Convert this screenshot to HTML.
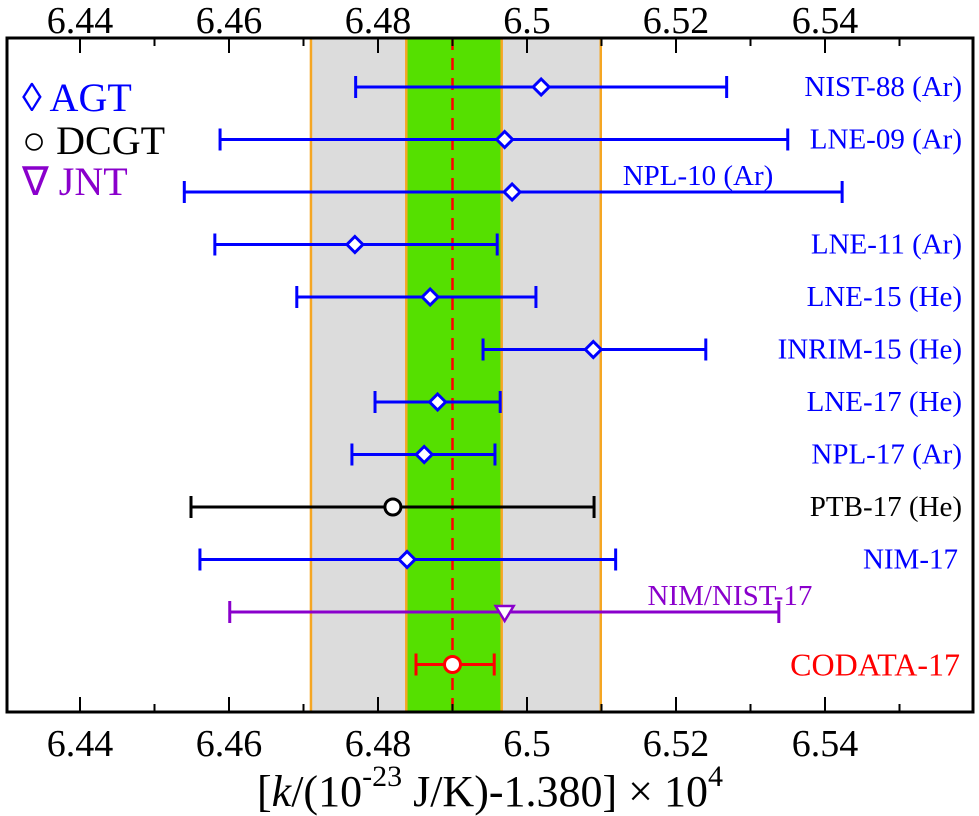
<!DOCTYPE html>
<html><head><meta charset="utf-8"><style>
body{margin:0;background:#fff;}
svg{display:block;font-family:"Liberation Serif",serif;}
</style></head><body>
<svg id="chart" width="979" height="816" viewBox="0 0 979 816" xmlns="http://www.w3.org/2000/svg">
<g id="bands"></g>
<g id="axes"></g>
<g id="marks"></g>
<g id="legend">
  <text x="22" y="111" font-size="40" fill="#0000ff">◊ AGT</text>
  <text x="22" y="154" font-size="40" fill="#000">○ DCGT</text>
  <text x="22" y="195" font-size="40" fill="#8a00cc">∇ JNT</text>
</g>
<text x="490" y="806" font-size="44" text-anchor="middle">[<tspan font-style="italic">k</tspan>/(10<tspan dy="-20" font-size="30">-23</tspan><tspan dy="20"> J/K)-1.380] × 10</tspan><tspan dy="-20" font-size="30">4</tspan></text>
</svg>
<script>
const labels=["NIST-88 (Ar)","LNE-09 (Ar)","NPL-10 (Ar)","LNE-11 (Ar)","LNE-15 (He)","INRIM-15 (He)","LNE-17 (He)","NPL-17 (Ar)","PTB-17 (He)","NIM-17","NIM/NIST-17","CODATA-17"];
const centers=[6.5019,6.497,6.498,6.4769,6.487,6.5089,6.488,6.4862,6.482,6.4839,6.497,6.4900];
const lows=[6.477,6.4588,6.454,6.4581,6.4691,6.4941,6.4796,6.4765,6.4549,6.4561,6.4601,6.4851];
const highs=[6.5268,6.535,6.5423,6.496,6.5012,6.524,6.4964,6.4957,6.509,6.5119,6.5338,6.4956];
const methods=["AGT","AGT","AGT","AGT","AGT","AGT","AGT","AGT","DCGT","AGT","JNT","CODATA"];
const tickValues=[6.44,6.46,6.48,6.50,6.52,6.54];
const tickLabels=["6.44","6.46","6.48","6.5","6.52","6.54"];
const minorTicks=[6.43,6.45,6.47,6.49,6.51,6.53,6.55];
const grayBand=[6.471,6.5099];
const greenBand=[6.4838,6.4966];
const codataValue=6.4900;

const L=7,R=973,T=38,B=712;
const x=v=>80+(v-6.44)*7450;
const y=i=>87+i*52.5;
const NS="http://www.w3.org/2000/svg";
function mk(tag,attrs,parent){const e=document.createElementNS(NS,tag);for(const k in attrs)e.setAttribute(k,attrs[k]);parent.appendChild(e);return e;}
const bands=document.getElementById('bands'),axes=document.getElementById('axes'),marks=document.getElementById('marks');

let g=mk('rect',{x:x(grayBand[0]),y:T,width:x(grayBand[1])-x(grayBand[0]),height:B-T,fill:'#dcdcdc',stroke:'#f5a623','stroke-width':2.5},bands);


let gr=mk('rect',{x:x(greenBand[0]),y:T,width:x(greenBand[1])-x(greenBand[0]),height:B-T,fill:'#55e000',stroke:'#f5a623','stroke-width':2.5},bands);


let dl=mk('line',{x1:x(codataValue),x2:x(codataValue),y1:T,y2:B,stroke:'#ff0000','stroke-width':2.5,'stroke-dasharray':'12,8'},bands);



let fr=mk('rect',{x:L,y:T,width:R-L,height:B-T,fill:'none',stroke:'#000','stroke-width':3},axes);


tickValues.forEach((v,i)=>{
  const X=x(v);
  mk('line',{x1:X,x2:X,y1:T,y2:T+15,stroke:'#000','stroke-width':2},axes);
  mk('line',{x1:X,x2:X,y1:B,y2:B-15,stroke:'#000','stroke-width':2},axes);
  const t1=mk('text',{x:X,y:33,'font-size':38,'text-anchor':'middle'},axes);t1.textContent=tickLabels[i];
  
  
  const t2=mk('text',{x:X,y:756,'font-size':38,'text-anchor':'middle'},axes);t2.textContent=tickLabels[i];
  
  
});
minorTicks.forEach(v=>{
  const X=x(v);if(X<L||X>R)return;
  mk('line',{x1:X,x2:X,y1:T,y2:T+8,stroke:'#000','stroke-width':2},axes);
  mk('line',{x1:X,x2:X,y1:B,y2:B-8,stroke:'#000','stroke-width':2},axes);
});

const colors={AGT:'#0000ff',DCGT:'#000000',JNT:'#8a00cc',CODATA:'#ff0000'};
labels.forEach((lab,i)=>{
  const c=colors[methods[i]],Y=y(i),x1=x(lows[i]),x2=x(highs[i]),cx=x(centers[i]);
  const grp=mk('g',{},marks);
  
  
  mk('line',{x1:x1,x2:x2,y1:Y,y2:Y,stroke:c,'stroke-width':3},grp);
  mk('line',{x1:x1,x2:x1,y1:Y-11,y2:Y+11,stroke:c,'stroke-width':3},grp);
  mk('line',{x1:x2,x2:x2,y1:Y-11,y2:Y+11,stroke:c,'stroke-width':3},grp);
  const m=methods[i];
  if(m==='AGT') mk('polygon',{points:`${cx},${Y-8} ${cx+8},${Y} ${cx},${Y+8} ${cx-8},${Y}`,fill:'#fff',stroke:c,'stroke-width':3},grp);
  else if(m==='JNT') mk('polygon',{points:`${cx-9},${Y-6} ${cx+9},${Y-6} ${cx},${Y+9}`,fill:'#fff',stroke:c,'stroke-width':2.5},grp);
  else mk('circle',{cx:cx,cy:Y,r:8,fill:'#fff',stroke:c,'stroke-width':3},grp);
  let tx,ty,anchor;
  if(lab==='NPL-10 (Ar)'){tx=698;ty=Y-7;anchor='middle';}
  else if(lab==='NIM/NIST-17'){tx=730;ty=Y-7;anchor='middle';}
  else if(lab==='CODATA-17'){tx=960;ty=Y+11;anchor='end';}
  else if(lab==='NIM-17'){tx=958;ty=Y+9;anchor='end';}
  else {tx=962;ty=Y+9;anchor='end';}
  const t=mk('text',{x:tx,y:ty,'font-size':lab==='CODATA-17'?32:29,'text-anchor':anchor,fill:c},grp);
  t.textContent=lab;
  
  
});
</script>
</body></html>
